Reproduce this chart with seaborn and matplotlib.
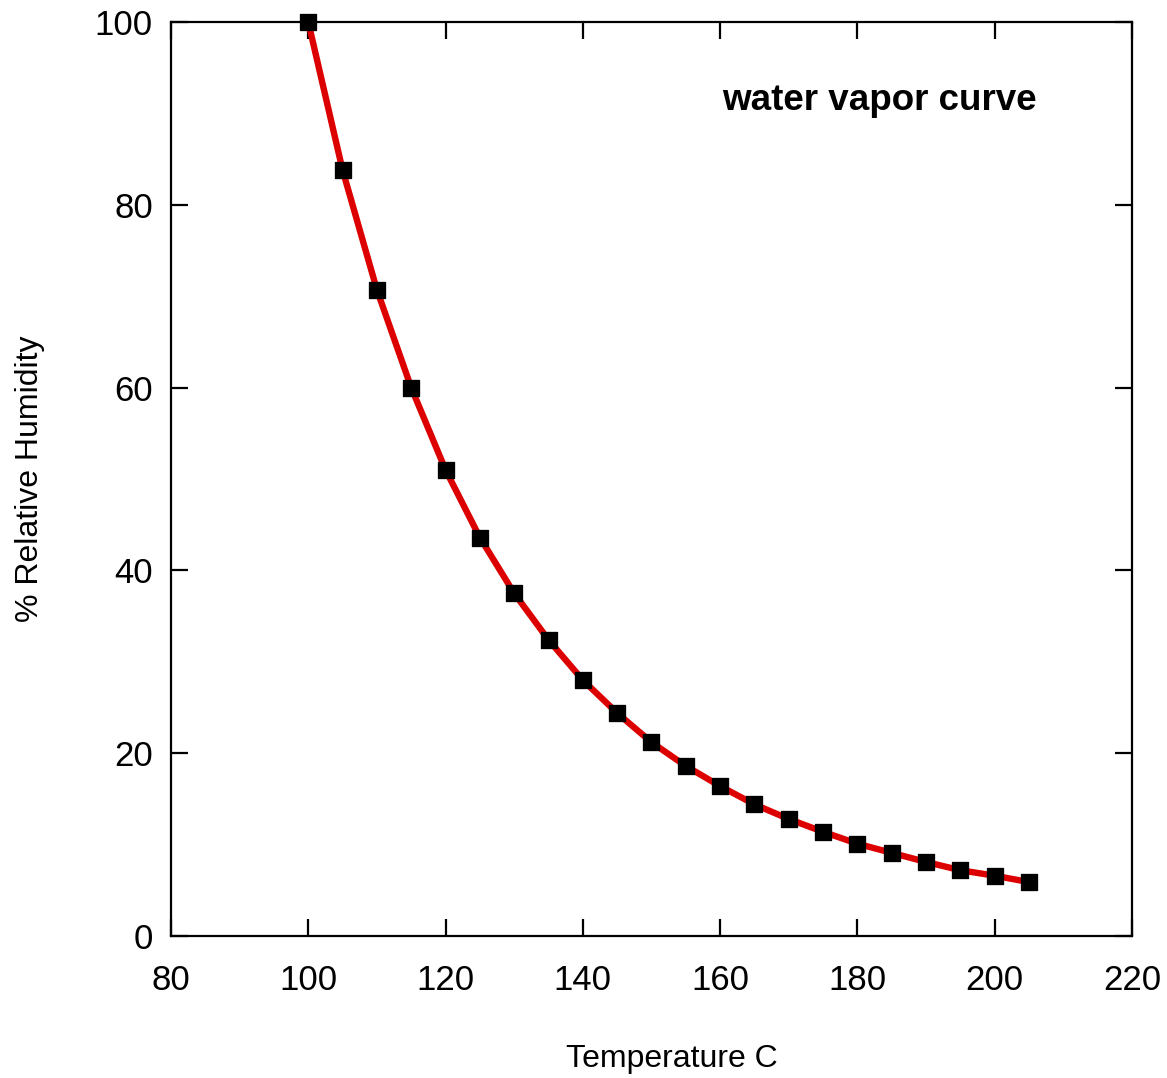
import matplotlib
matplotlib.use("Agg")
import matplotlib.pyplot as plt
import seaborn as sns
import pandas as pd

# temperature (C) and relative humidity
temperature = [100, 105, 110, 115, 120, 125, 130, 135, 140, 145, 150,
               155, 160, 165, 170, 175, 180, 185, 190, 195, 200, 205]
humidity = [100.0, 83.8, 70.7, 60.0, 51.0, 43.6, 37.5, 32.4, 28.0, 24.4, 21.2,
            18.6, 16.4, 14.4, 12.8, 11.4, 10.1, 9.1, 8.1, 7.2, 6.6, 5.9]

x_ticks = [80, 100, 120, 140, 160, 180, 200, 220]
y_ticks = [0, 20, 40, 60, 80, 100]

df = pd.DataFrame({"Temperature C": temperature, "% Relative Humidity": humidity})

sns.set_style("white")
plt.rcParams["font.family"] = ["Liberation Sans", "DejaVu Sans"]
plt.rcParams["text.color"] = "black"
plt.rcParams["axes.labelcolor"] = "black"
plt.rcParams["xtick.color"] = "black"
plt.rcParams["ytick.color"] = "black"

fig = plt.figure(figsize=(11.67, 10.78), dpi=100)
ax = fig.add_axes([0.1465, 0.1317, 0.8235, 0.8479])

sns.lineplot(data=df, x="Temperature C", y="% Relative Humidity", ax=ax,
             color="#dd0000", linewidth=4.6, zorder=2)
sns.scatterplot(data=df, x="Temperature C", y="% Relative Humidity", ax=ax,
                marker="s", s=140, color="black", edgecolor="black", zorder=3,
                clip_on=False)

ax.set_xlim(80, 220)
ax.set_ylim(0, 100)
ax.set_xticks(x_ticks)
ax.set_yticks(y_ticks)
ax.tick_params(direction="in", length=12, width=1.6, labelsize=25,
               top=True, right=True, bottom=True, left=True,
               colors="black")
ax.tick_params(axis="x", pad=20)
ax.tick_params(axis="y", pad=13)
for sp in ax.spines.values():
    sp.set_linewidth(1.6)
    sp.set_color("black")

ax.set_xlabel("Temperature C", fontsize=23)
ax.xaxis.set_label_coords(0.521, -0.118)
ax.set_ylabel("% Relative Humidity", fontsize=23, labelpad=36)
ax.text(183.2, 91.4, "water vapor curve", fontsize=26.5, fontweight="bold",
        ha="center", va="center")

fig.savefig("out.png", dpi=100)
